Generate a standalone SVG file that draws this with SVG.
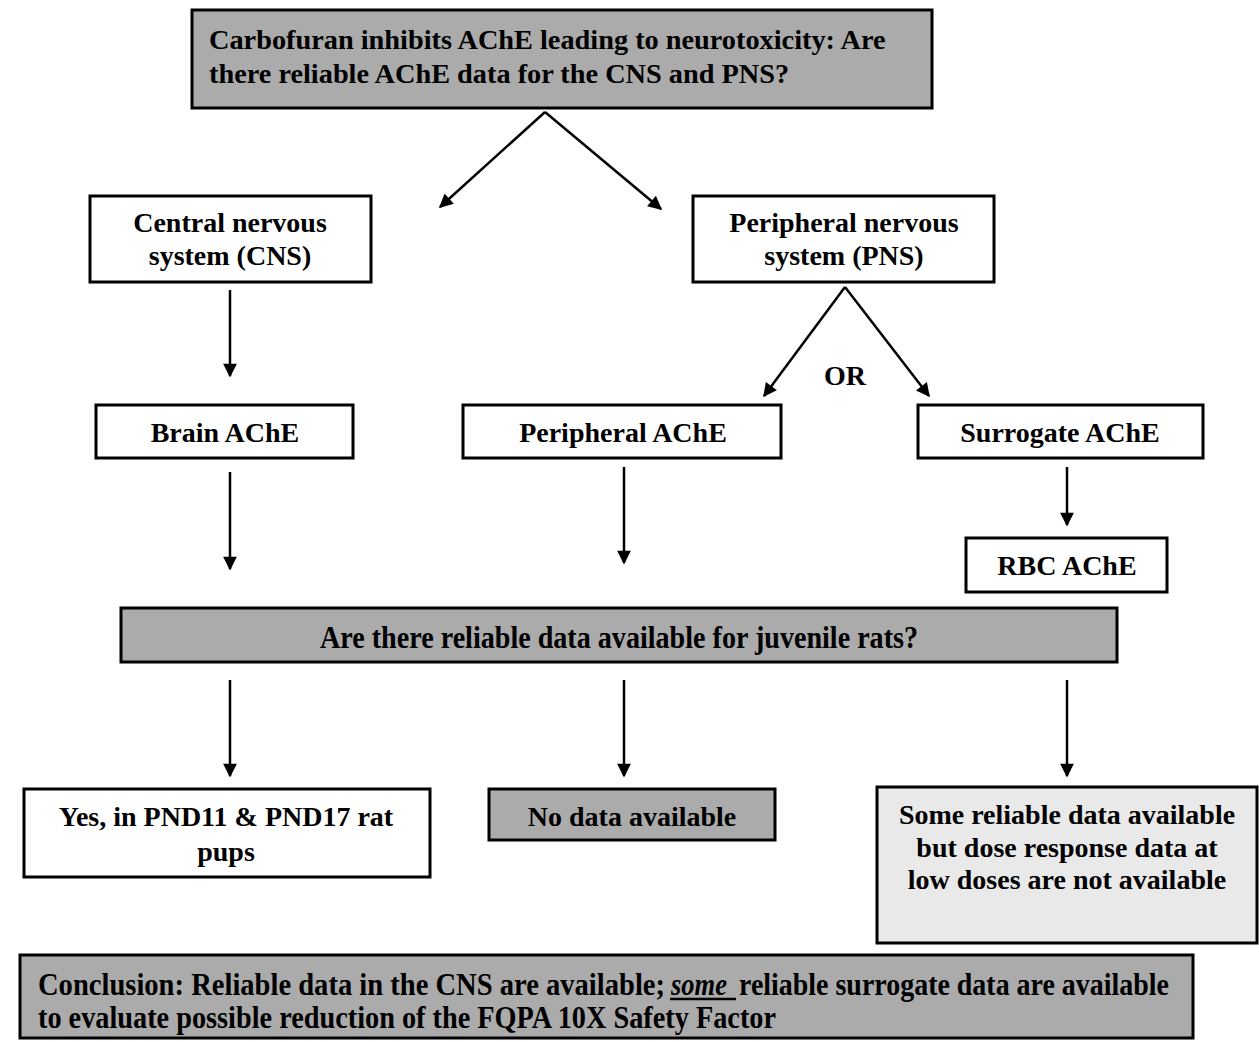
<svg xmlns="http://www.w3.org/2000/svg" width="1259" height="1042" viewBox="0 0 1259 1042">
<defs>
<marker id="ah" viewBox="0 0 10 10" refX="9" refY="5" markerWidth="6" markerHeight="5.5" markerUnits="strokeWidth" orient="auto">
<path d="M0,0 L10,5 L0,10 Z" fill="#000"/>
</marker>
</defs>
<style>
.box{stroke:#000;stroke-width:3;fill:#fff}
.gray{fill:#ababab}
.light{fill:#e9e9e9}
.t{font-family:"Liberation Serif",serif;font-weight:bold;font-size:28px;fill:#000}
.top{font-size:28.3px}
.it{font-style:italic}
.c{text-anchor:middle}
.con{stroke:#000;stroke-width:2.5;fill:none;marker-end:url(#ah)}
</style>
<rect width="1259" height="1042" fill="#fff"/>
<g id="n-top"><rect class="box gray" x="192" y="10" width="740" height="98"/>
<text class="t top" x="209" y="49">Carbofuran inhibits AChE leading to neurotoxicity: Are</text>
<text class="t top" x="209" y="83">there reliable AChE data for the CNS and PNS?</text></g>
<g id="n-cns"><rect class="box" x="90" y="196" width="281" height="86"/>
<text class="t c" x="230" y="232">Central nervous</text><text class="t c" x="230" y="265">system (CNS)</text></g>
<g id="n-pns"><rect class="box" x="693" y="196" width="301" height="86"/>
<text class="t c" x="844" y="232">Peripheral nervous</text><text class="t c" x="844" y="265">system (PNS)</text></g>
<g id="n-or"><text class="t c" x="845" y="385">OR</text></g>
<g id="n-brain"><rect class="box" x="96" y="405" width="257" height="53"/><text class="t c" x="225" y="442">Brain AChE</text></g>
<g id="n-periph"><rect class="box" x="463" y="405" width="318" height="53"/><text class="t c" x="623" y="442">Peripheral AChE</text></g>
<g id="n-surr"><rect class="box" x="918" y="405" width="285" height="53"/><text class="t c" x="1060" y="442">Surrogate AChE</text></g>
<g id="n-rbc"><rect class="box" x="966" y="538" width="201" height="54"/><text class="t c" x="1067" y="575">RBC AChE</text></g>
<g id="n-juv"><rect class="box gray" x="121" y="608" width="996" height="54"/><text class="t c" transform="translate(619,648) scale(1,1.14)" x="0" y="0" textLength="598" lengthAdjust="spacingAndGlyphs">Are there reliable data available for juvenile rats?</text></g>
<g id="n-yes"><rect class="box" x="24" y="789" width="406" height="88"/>
<text class="t c" x="226" y="826">Yes, in PND11 &amp; PND17 rat</text><text class="t c" x="226" y="861">pups</text></g>
<g id="n-no"><rect class="box gray" x="489" y="789" width="286" height="51"/><text class="t c" x="632" y="826">No data available</text></g>
<g id="n-some"><rect class="box light" x="877" y="787" width="380" height="156"/>
<text class="t c" x="1067" y="824">Some reliable data available</text>
<text class="t c" x="1067" y="857">but dose response data at</text>
<text class="t c" x="1067" y="889">low doses are not available</text></g>
<g id="n-concl"><rect class="box gray" x="20" y="955" width="1173" height="83"/>
<text class="t" transform="translate(38,995) scale(1,1.14)" x="0" y="0" textLength="627" lengthAdjust="spacingAndGlyphs">Conclusion:  Reliable data in the CNS are available;</text>
<text class="t it" transform="translate(671,995) scale(1,1.14)" x="0" y="0" textLength="56" lengthAdjust="spacingAndGlyphs">some</text>
<line x1="670" y1="999" x2="736" y2="999" stroke="#000" stroke-width="2.5"/>
<text class="t" transform="translate(739,995) scale(1,1.14)" x="0" y="0" textLength="430" lengthAdjust="spacingAndGlyphs">reliable surrogate data are available</text>
<text class="t" transform="translate(38,1028) scale(1,1.14)" x="0" y="0" textLength="738" lengthAdjust="spacingAndGlyphs">to evaluate possible reduction of the FQPA 10X Safety Factor</text></g>
<g id="connectors">
<path class="con" d="M545,112 L440,207"/>
<path class="con" d="M545,112 L661,209"/>
<path class="con" d="M230,290 L230,376"/>
<path class="con" d="M845,287 L764,396"/>
<path class="con" d="M845,287 L929,396"/>
<path class="con" d="M230,472 L230,569"/>
<path class="con" d="M624,467 L624,563"/>
<path class="con" d="M1067,467 L1067,525"/>
<path class="con" d="M230,680 L230,776"/>
<path class="con" d="M624,680 L624,776"/>
<path class="con" d="M1067,680 L1067,776"/>
</g>
</svg>
